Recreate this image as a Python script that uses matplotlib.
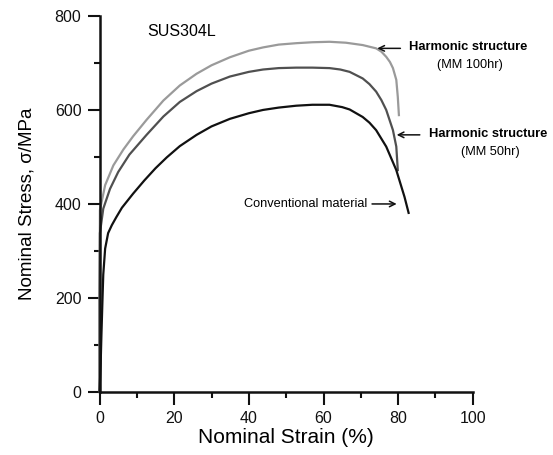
import matplotlib
matplotlib.use("Agg")
import matplotlib.pyplot as plt
from matplotlib.ticker import MultipleLocator

plt.rcParams['font.family'] = ['Liberation Sans', 'DejaVu Sans']

# curves: strain (%) and nominal stress (MPa)
conv_strain = [0, 0.3, 0.5, 0.8, 1.0, 1.5, 2.3, 3.3, 4.5, 6.0, 9.0, 12.0, 15.0, 18.0,
               21.5, 26.0, 30.0, 34.9, 40.0, 43.8, 48.0, 52.7, 57.0, 61.6, 65.0,
               67.0, 70.5, 72.3, 74.1, 76.8, 79.5, 81.7, 82.8]
conv_stress = [0, 60, 120, 200, 250, 305, 338, 355, 372, 392, 422, 450, 476, 499,
               523, 547, 565, 581, 593, 600, 605, 609, 611, 611, 606,
               601, 585, 573, 557, 522, 472, 415, 381]

mm50_strain = [0, 0.0, 0.1, 1.0, 2.8, 5.0, 8.0, 12.6, 17.1, 21.5, 26.0, 30.0, 34.9,
               40.0, 43.8, 48.0, 52.7, 57.0, 61.6, 64.5, 67.0, 70.5, 72.3, 74.1,
               75.5, 76.8, 78.6, 79.5, 79.9]
mm50_stress = [0, 200, 338, 390, 432, 468, 505, 547, 586, 617, 640, 656, 671,
               681, 686, 689, 690, 690, 689, 686, 681, 667, 655, 639,
               621, 600, 557, 522, 472]

mm100_strain = [0, 0.0, 0.1, 1.5, 3.7, 6.4, 9.0, 12.6, 17.1, 21.5, 26.0, 30.0, 34.9,
                40.0, 43.8, 48.0, 52.7, 57.0, 61.6, 66.0, 70.5, 74.1, 75.5, 76.8,
                77.8, 78.6, 79.5, 79.9, 80.2]
mm100_stress = [0, 200, 387, 440, 482, 516, 544, 579, 620, 652, 677, 695, 712,
                726, 733, 739, 742, 744, 745, 743, 738, 731, 724, 713,
                702, 689, 664, 628, 589]

fig = plt.figure(figsize=(5.53, 4.55), dpi=100)
ax = fig.add_axes([0.18, 0.1385, 0.675, 0.8265])

ax.plot(mm100_strain, mm100_stress, color='#9a9a9a', lw=1.6, clip_on=False)
ax.plot(mm50_strain, mm50_stress, color='#505050', lw=1.6, clip_on=False)
ax.plot(conv_strain, conv_stress, color='#111111', lw=1.6, clip_on=False)

ax.set_xlim(0, 100)
ax.set_ylim(0, 800)
ax.xaxis.set_major_locator(MultipleLocator(20))
ax.xaxis.set_minor_locator(MultipleLocator(10))
ax.yaxis.set_major_locator(MultipleLocator(200))
ax.yaxis.set_minor_locator(MultipleLocator(100))

for side in ['top', 'right']:
    ax.spines[side].set_visible(False)
for side in ['left', 'bottom']:
    ax.spines[side].set_linewidth(1.8)
    ax.spines[side].set_color('#111111')

ax.tick_params(which='major', length=9, width=1.5, labelsize=11.5, colors='#111111')
ax.tick_params(which='minor', length=4.5, width=1.5, colors='#111111')
ax.tick_params(axis='x', which='major', pad=5)
ax.tick_params(axis='y', which='major', pad=4)

ax.set_xlabel('Nominal Strain (%)', fontsize=15, labelpad=1)
ax.set_ylabel('Nominal Stress, σ/MPa', fontsize=13.5, labelpad=14)

ax.text(22, 766, 'SUS304L', fontsize=11.5, ha='center', va='center')

arrow = dict(arrowstyle='->', lw=1.1, color='#111111', shrinkA=0, shrinkB=0)
ax.annotate('', xy=(74.4, 731), xytext=(80.6, 731), arrowprops=arrow, annotation_clip=False)
ax.text(98.8, 733, 'Harmonic structure', fontsize=9.3, fontweight='bold',
        ha='center', va='center', clip_on=False)
ax.text(99.3, 696, '(MM 100hr)', fontsize=9.2, ha='center', va='center', clip_on=False)

ax.annotate('', xy=(79.6, 547), xytext=(85.8, 547), arrowprops=arrow, annotation_clip=False)
ax.text(104.1, 549, 'Harmonic structure', fontsize=9.3, fontweight='bold',
        ha='center', va='center', clip_on=False)
ax.text(104.8, 511, '(MM 50hr)', fontsize=9.2, ha='center', va='center', clip_on=False)

ax.text(71.6, 400, 'Conventional material', fontsize=9.2, ha='right', va='center')
ax.annotate('', xy=(79.6, 400), xytext=(73.0, 400), arrowprops=arrow, annotation_clip=False)

fig.savefig('out.png', dpi=100)
